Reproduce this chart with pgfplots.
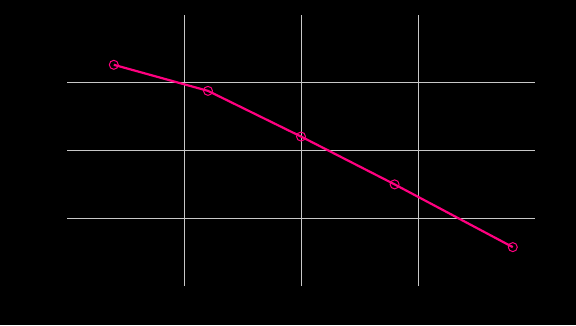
\documentclass[border=0pt]{standalone}
\usepackage{pgfplots}
\pgfplotsset{compat=1.18}
\definecolor{pinkline}{RGB}{255,0,128}
\definecolor{gridc}{RGB}{200,200,200}
\begin{document}
\begin{tikzpicture}[x=1bp,y=1bp]
\fill[black] (-67,-39) rectangle (509,286);
\begin{axis}[
  at={(0,0)}, anchor=south west,
  scale only axis,
  width=468bp, height=271bp,
  xmin=0, xmax=4, ymin=0, ymax=4,
  xtick={1,2,3}, ytick={1,2,3},
  xticklabels={}, yticklabels={},
  major tick length=0pt,
  grid=major,
  major grid style={gridc, line width=0.9bp},
  axis line style={draw=none},
]
\addplot[pinkline, line width=2.2bp, mark=o, mark size=4.5bp, mark options={line width=1bp}]
  coordinates {(0.40,3.265) (1.205,2.88) (2.0,2.206) (2.80,1.50) (3.81,0.574)};
\end{axis}
\end{tikzpicture}
\end{document}
